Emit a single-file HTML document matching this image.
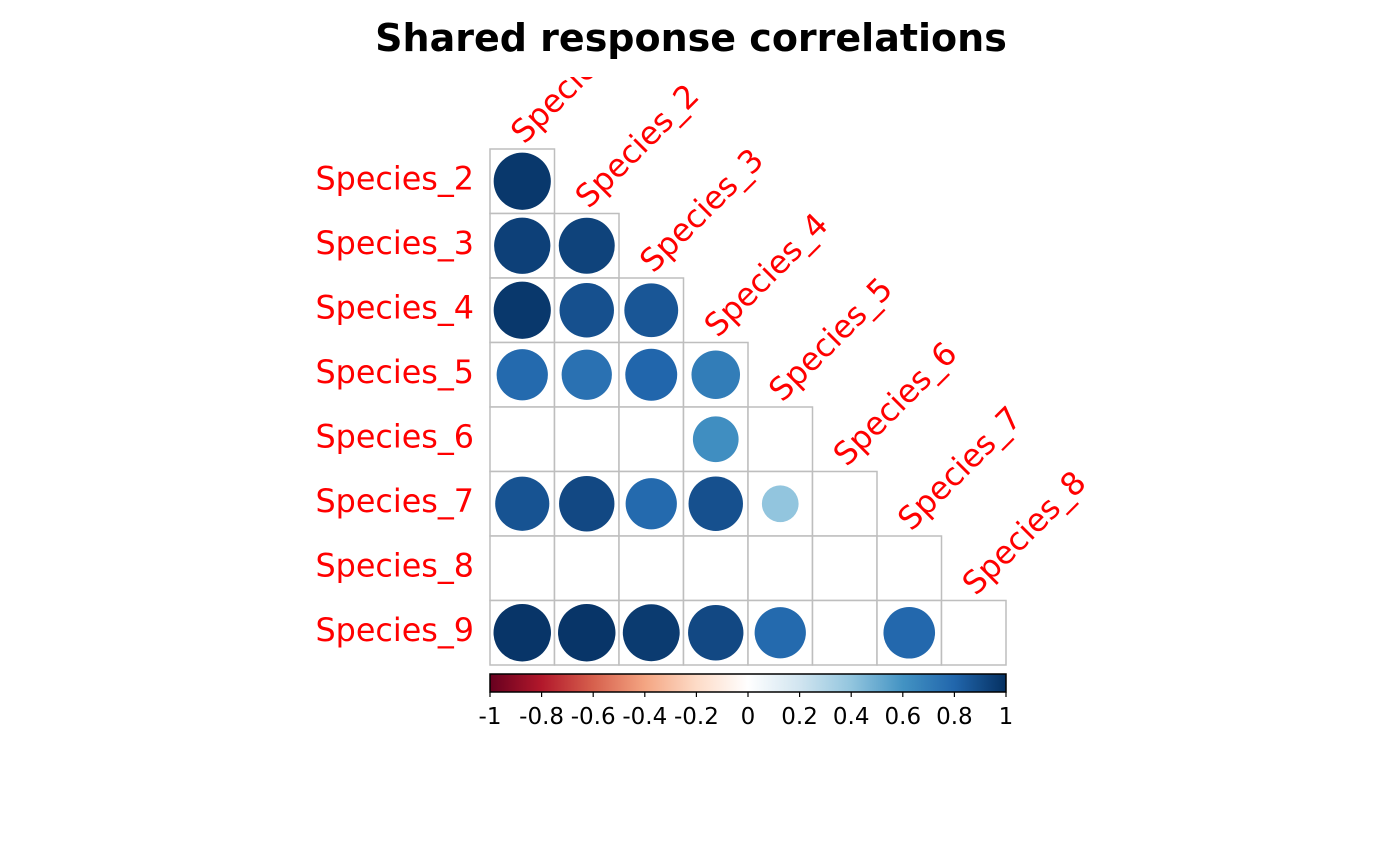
<!DOCTYPE html>
<html><head><meta charset="utf-8"><style>
html,body{margin:0;padding:0;background:#fff;}
svg{display:block;font-family:"DejaVu Sans","Liberation Sans",sans-serif;}
</style></head><body>
<svg id="chart" width="1400" height="866" viewBox="0 0 1400 866">
<defs><clipPath id="clip"><rect x="0" y="77" width="1400" height="800"/></clipPath></defs>
<text x="691" y="51" text-anchor="middle" font-size="38" font-weight="bold">Shared response correlations</text>
<g id="grid"></g><g id="labels" clip-path="url(#clip)"></g><g id="cbar"></g>
</svg>
<script>
const colNames = ["Species_1","Species_2","Species_3","Species_4","Species_5","Species_6","Species_7","Species_8"];
const rowNames = ["Species_2","Species_3","Species_4","Species_5","Species_6","Species_7","Species_8","Species_9"];
const row0 = [0.97];
const row1 = [0.94, 0.93];
const row2 = [0.97, 0.88, 0.86];
const row3 = [0.78, 0.75, 0.8, 0.7];
const row4 = [0, 0, 0, 0.62, 0];
const row5 = [0.87, 0.91, 0.78, 0.88, 0.4, 0];
const row6 = [0, 0, 0, 0, 0, 0, 0];
const row7 = [0.98, 0.98, 0.96, 0.91, 0.78, 0, 0.79, 0];
const rows = [row0,row1,row2,row3,row4,row5,row6,row7];
const ticks = ["-1","-0.8","-0.6","-0.4","-0.2","0","0.2","0.4","0.6","0.8","1"];
const tickVals = [-1,-0.8,-0.6,-0.4,-0.2,0,0.2,0.4,0.6,0.8,1];

const NS="http://www.w3.org/2000/svg";
const X0=490, Y0=149, W=516, N=8, C=W/N;
const pal=["#67001F","#B2182B","#D6604D","#F4A582","#FDDBC7","#FFFFFF","#D1E5F0","#92C5DE","#4393C3","#2166AC","#053061"];
function hex(h){return [1,3,5].map(i=>parseInt(h.substr(i,2),16));}
function color(v){const t=(v+1)/2*10;const i=Math.min(9,Math.floor(t));const f=t-i;const a=hex(pal[i]),b=hex(pal[i+1]);
return "rgb("+a.map((x,k)=>Math.round(x+(b[k]-x)*f)).join(",")+")";}
function mk(tag,attrs,parent){const e=document.createElementNS(NS,tag);for(const k in attrs)e.setAttribute(k,attrs[k]);parent.appendChild(e);return e;}
const xs=j=>X0+j*C, ys=i=>Y0+i*C;
const grid=document.getElementById("grid"), labels=document.getElementById("labels"), cb=document.getElementById("cbar");
rows.forEach((vals,i)=>{
  vals.forEach((v,j)=>{
    const r=mk("rect",{x:xs(j),y:ys(i),width:C,height:C,fill:"#fff",stroke:"#bebebe","stroke-width":1.5},grid);
    
    
    if(v!==0){
      const c=mk("circle",{cx:xs(j)+C/2,cy:ys(i)+C/2,r:0.9*C/2*Math.sqrt(Math.abs(v)),fill:color(v)},grid);
      
      
    }
  });
  const t=mk("text",{x:474,y:ys(i)+C/2+8,"text-anchor":"end","font-size":31.8,fill:"#ff0000"},grid);
  t.textContent=rowNames[i];
  
  
});
colNames.forEach((n,j)=>{
  const x=xs(j)+C/2+2, y=ys(j)-4;
  const t=mk("text",{x:x,y:y,"font-size":31.8,fill:"#ff0000",transform:`rotate(-45 ${x} ${y})`},labels);
  t.textContent=n;
  
  
});
const g=mk("linearGradient",{id:"grad",x1:0,x2:1,y1:0,y2:0},document.querySelector("defs"));
pal.forEach((p,k)=>mk("stop",{offset:k/10,"stop-color":p},g));
const bar=mk("rect",{x:X0,y:674,width:W,height:18,fill:"url(#grad)",stroke:"#000","stroke-width":1.5},cb);


tickVals.forEach((v,k)=>{
  const x=X0+(v+1)/2*W;
  mk("line",{x1:x,x2:x,y1:692,y2:697,stroke:"#000","stroke-width":1.2},cb);
  const t=mk("text",{x:x,y:724,"text-anchor":"middle","font-size":23},cb);
  t.textContent=ticks[k];
  
  
});
</script>
</body></html>
